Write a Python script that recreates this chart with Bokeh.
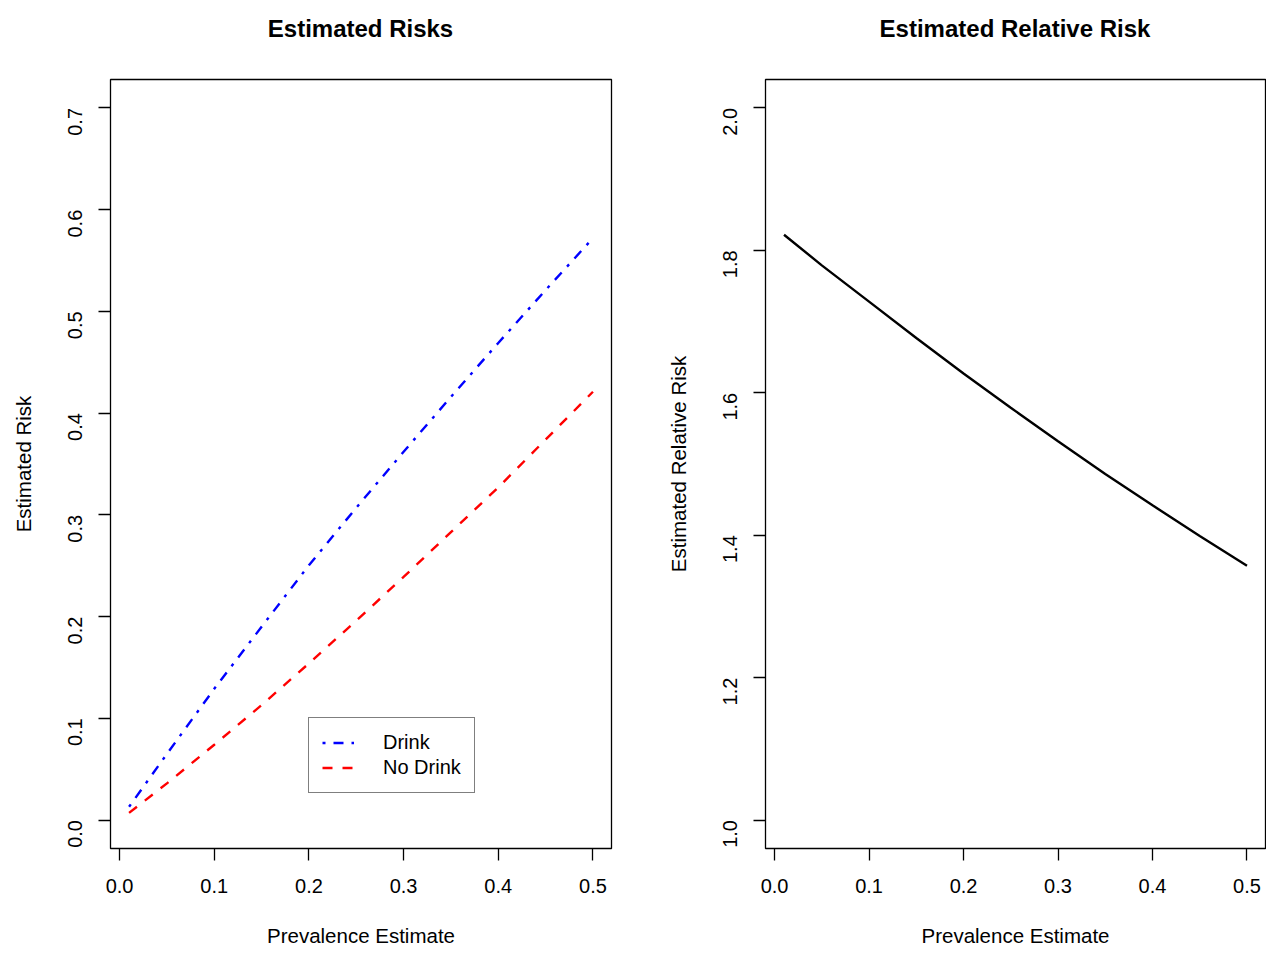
import math
from bokeh.plotting import figure
from bokeh.layouts import row, column
from bokeh.models import FixedTicker, Legend, LegendItem, Range1d, Div
from bokeh.embed import file_html
from bokeh.resources import INLINE

# ---- data ----
prevalence = [0.01, 0.05, 0.10, 0.15, 0.20, 0.25, 0.30, 0.35, 0.40, 0.45, 0.50]
risk_drink = [0.013, 0.065, 0.129, 0.190, 0.2505, 0.307, 0.362, 0.416, 0.469, 0.521, 0.572]
risk_no_drink = [0.007, 0.036, 0.074, 0.113, 0.154, 0.196, 0.239, 0.283, 0.327, 0.374, 0.421]
relative_risk = [1.822, 1.779, 1.728, 1.677, 1.627, 1.579, 1.532, 1.486, 1.442, 1.399, 1.357]

x_ticks = [0.0, 0.1, 0.2, 0.3, 0.4, 0.5]
x_tick_labels = ["0.0", "0.1", "0.2", "0.3", "0.4", "0.5"]
y1_ticks = [0.0, 0.1, 0.2, 0.3, 0.4, 0.5, 0.6, 0.7]
y1_tick_labels = ["0.0", "0.1", "0.2", "0.3", "0.4", "0.5", "0.6", "0.7"]
y2_ticks = [1.0, 1.2, 1.4, 1.6, 1.8, 2.0]
y2_tick_labels = ["1.0", "1.2", "1.4", "1.6", "1.8", "2.0"]
titles = ["Estimated Risks", "Estimated Relative Risk"]

FONT = "Liberation Sans"
TITLE_H = 58


def title_div(text, width, left, frame_w):
    html = ('<div style="margin-left:%dpx;width:%dpx;text-align:center;'
            'font-family:\'Liberation Sans\';font-size:24px;font-weight:bold;'
            'line-height:%dpx;color:black;white-space:nowrap;">%s</div>'
            % (left, frame_w, TITLE_H, text))
    return Div(text=html, width=width, height=TITLE_H, margin=0)


def style(p, xt, xl, yt, yl, xlabel, ylabel):
    p.outline_line_color = "black"
    p.outline_line_width = 1.3
    p.grid.visible = False
    p.background_fill_color = "white"
    p.border_fill_color = "white"
    for ax, ticks, labels in ((p.xaxis[0], xt, xl), (p.yaxis[0], yt, yl)):
        ax.ticker = FixedTicker(ticks=ticks)
        ax.major_label_overrides = {t: s for t, s in zip(ticks, labels)}
        ax.axis_line_color = None
        ax.major_tick_line_color = "black"
        ax.major_tick_line_width = 1.3
        ax.major_tick_out = 12
        ax.major_tick_in = 0
        ax.minor_tick_line_color = None
        ax.major_label_text_font = FONT
        ax.major_label_text_font_size = "20px"
        ax.major_label_text_color = "black"
        ax.axis_label_text_font = FONT
        ax.axis_label_text_font_size = "20.5px"
        ax.axis_label_text_font_style = "normal"
        ax.axis_label_text_color = "black"
    p.xaxis[0].axis_label = xlabel
    p.yaxis[0].axis_label = ylabel
    p.xaxis[0].major_label_standoff = 18
    p.xaxis[0].axis_label_standoff = 28
    p.yaxis[0].major_label_standoff = 23
    p.yaxis[0].axis_label_standoff = 24
    p.yaxis[0].major_label_orientation = math.pi / 2


p1 = figure(width=637, height=954 - TITLE_H, output_backend="svg", toolbar_location=None,
            x_range=Range1d(-0.0096, 0.5196), y_range=Range1d(-0.028, 0.728),
            min_border_left=110, min_border_right=26, min_border_top=79 - TITLE_H,
            min_border_bottom=106, margin=0)
style(p1, x_ticks, x_tick_labels, y1_ticks, y1_tick_labels, "Prevalence Estimate", "Estimated Risk")

r_drink = p1.line(prevalence, risk_drink, line_color="blue", line_width=2.4, line_dash="3 8 10 8")
r_nodrink = p1.line(prevalence, risk_no_drink, line_color="red", line_width=2.4, line_dash="10 10")

legend = Legend(items=[LegendItem(label="Drink", renderers=[r_drink]),
                       LegendItem(label="No Drink", renderers=[r_nodrink])],
                location=(198, 55))
legend.label_text_font = FONT
legend.label_text_font_size = "20px"
legend.label_text_color = "black"
legend.border_line_color = "black"
legend.border_line_width = 1.3
legend.background_fill_color = "white"
legend.background_fill_alpha = 1.0
legend.padding = 13
legend.spacing = 2
legend.margin = 0
legend.glyph_width = 32
legend.glyph_height = 21
legend.label_height = 21
legend.label_standoff = 29
p1.add_layout(legend, "center")

p2 = figure(width=629, height=954 - TITLE_H, output_backend="svg", toolbar_location=None,
            x_range=Range1d(-0.0096, 0.5196), y_range=Range1d(0.96, 2.04),
            min_border_left=128, min_border_right=1, min_border_top=79 - TITLE_H,
            min_border_bottom=106, margin=0)
style(p2, x_ticks, x_tick_labels, y2_ticks, y2_tick_labels, "Prevalence Estimate",
      "Estimated Relative Risk")
p2.line(prevalence, relative_risk, line_color="black", line_width=2.4)

col1 = column(title_div(titles[0], 637, 110, 501), p1, spacing=0)
col2 = column(title_div(titles[1], 629, 128, 500), p2, spacing=0)
layout = row(col1, col2, spacing=0)
open("out.html", "w").write(file_html(layout, INLINE))
